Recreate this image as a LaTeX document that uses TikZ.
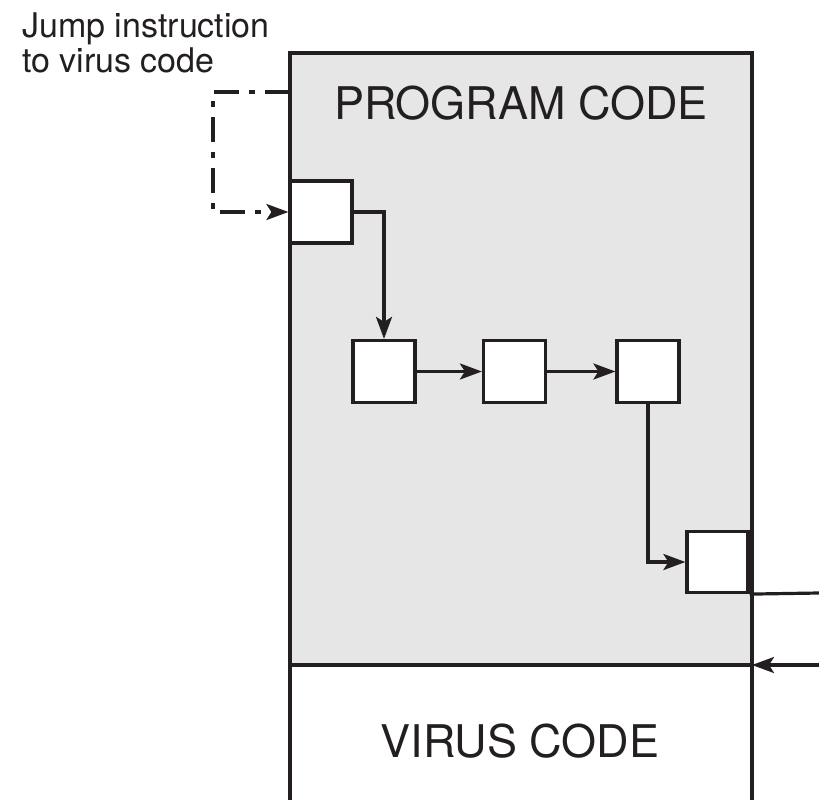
\documentclass[tikz,border=0pt]{standalone}
\usepackage{fontspec}
\setmainfont{TeX Gyre Heros}
\usetikzlibrary{arrows.meta}
\definecolor{ink}{HTML}{231F20}
\definecolor{panel}{HTML}{E6E6E6}
\tikzset{
  outline/.style={draw=ink, line width=3.2pt},
  cell/.style={draw=ink, fill=white, line width=3.2pt, minimum size=62pt, inner sep=0pt},
  flow/.style={draw=ink, line width=3.2pt, -{Stealth[length=22pt,width=16pt,inset=5pt]}},
  jumpline/.style={flow, dash pattern=on 25pt off 10pt on 6pt off 10pt},
  bigtext/.style={font=\fontsize{45}{54}\selectfont, text=ink, inner sep=0pt, anchor=base},
  note/.style={font=\fontsize{34}{35}\selectfont, text=ink, inner sep=0pt, align=left, anchor=base west}
}
\begin{document}
\begin{tikzpicture}[x=1pt, y=-1pt]
\useasboundingbox (0,0) rectangle (819,800);

% memory image: program part shaded, virus part appended below
\fill[panel] (290,53) rectangle (752,665);
\coordinate (join) at (752,665);
\draw[outline] (290,800) -- (290,53) -- (752,53) -- (752,800);
\draw[outline] (290,665) -- (join);

\node[bigtext] (prog) at (521,119) {PROGRAM CODE};
\node[bigtext] (virus) at (520,757) {VIRUS CODE};

% instruction blocks of the host program
\node[cell] (b1) at (321,212) {};
\node[cell] (b2) at (384,371.5) {};
\node[cell] (b3) at (514.5,371.5) {};
\node[cell] (b4) at (648,371.5) {};
\node[cell, minimum size=61pt] (b5) at (717.5,562) {};

% normal control flow
\draw[flow] (b1.east) -| (b2.north);
\draw[flow] (b2) -- (b3);
\draw[flow] (b3) -- (b4);
\draw[flow] (b4.south) |- (b5.west);
\coordinate (exit) at (819,593);
\draw[outline] (b5.south east) -- (exit);
\coordinate (entry) at (819,665);
\draw[flow] (entry) -- (join);

% inserted jump
\node[note] (label) at (22,72) {Jump instruction\\to virus code};
\coordinate (jmp) at (290,92);
\draw[jumpline] (jmp) -- ++(-77,0) |- (b1.west);
\end{tikzpicture}
\end{document}
